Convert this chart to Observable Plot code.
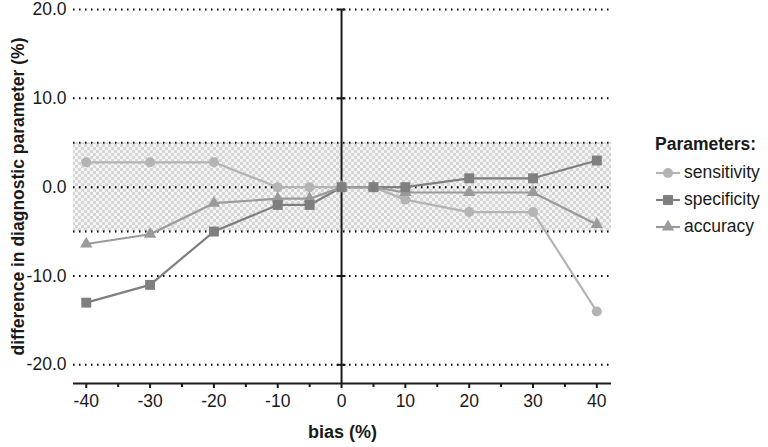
<!DOCTYPE html>
<html>
<head>
<meta charset="utf-8">
<script src="https://cdn.jsdelivr.net/npm/d3@7"></script>
<script src="https://cdn.jsdelivr.net/npm/@observablehq/plot@0.6"></script>
<style>
  html, body { margin: 0; padding: 0; background: #fff; }
  #wrap { position: relative; width: 768px; height: 447px; font-family: "Liberation Sans", Arial, sans-serif; color: #1a1a1a; }
  #legend { position: absolute; left: 655px; top: 134px; font-size: 17.5px; }
  #legend .title { font-weight: bold; font-size: 17.5px; margin-bottom: 4px; }
  #legend .item { display: flex; align-items: center; height: 27px; }
  #legend svg { margin-right: 3px; }
</style>
</head>
<body>
<div id="wrap"></div>
<script>
const bias = [-40, -30, -20, -10, -5, 0, 5, 10, 20, 30, 40];
const sensitivity = [2.8, 2.8, 2.8, 0, 0, 0, 0, -1.4, -2.8, -2.8, -14];
const specificity = [-13, -11, -5, -2, -2, 0, 0, 0, 1, 1, 3];
const accuracy = [-6.4, -5.3, -1.8, -1.3, -1.3, 0, 0, -0.6, -0.6, -0.6, -4.2];
const seriesNames = ["sensitivity", "specificity", "accuracy"];
const seriesColors = ["#b4b4b4", "#7f7f7f", "#9a9a9a"];
const seriesSymbols = ["circle", "square", "triangle"];
const seriesR = [5, 5.6, 4.6];
const yTicks = [20, 10, 0, -10, -20];
const gridValues = [20, 10, 5, 0, -5, -10, -20];
const band = [-5, 5];
const xLabelTicks = [-40, -30, -20, -10, 0, 10, 20, 30, 40];
const xMinorTicks = [-35, -25, -15, -5, 5, 15, 25, 35];
const xDomain = [-42, 42.3];
const yDomain = [-22.1, 20];

const values = [sensitivity, specificity, accuracy];
const rows = values.map(v => bias.map((b, i) => ({bias: b, value: v[i]})));

const marks = [
  Plot.rectY([band], {y1: d => d[0], y2: d => d[1], fill: "url(#checker)"}),
  Plot.ruleY(gridValues, {stroke: "#000", strokeWidth: 2, strokeDasharray: "1.5,4.5"}),
  Plot.ruleX([0], {stroke: "#1a1a1a", strokeWidth: 2}),
  Plot.ruleY(yTicks, {x1: -0.7, x2: 0.7, stroke: "#1a1a1a", strokeWidth: 2}),
  Plot.ruleY([yDomain[0]], {stroke: "#1a1a1a", strokeWidth: 2}),
  Plot.axisX(xLabelTicks, {tickSize: 5, tickPadding: 6, fontSize: 17.5, stroke: "#1a1a1a", strokeWidth: 2, fill: "#1a1a1a", tickFormat: d => String(d), label: null}),
  Plot.axisX(xMinorTicks, {tickSize: 4, text: null, stroke: "#1a1a1a", strokeWidth: 2, label: null}),
  Plot.axisY(yTicks, {tickSize: 0, tickPadding: 7, fontSize: 17.5, fill: "#1a1a1a", tickFormat: d => d.toFixed(1), label: null})
];
rows.forEach((data, i) => {
  marks.push(Plot.line(data, {x: "bias", y: "value", stroke: seriesColors[i], strokeWidth: 2.2}));
});
[0, 2, 1].forEach(i => {
  marks.push(Plot.dot(rows[i], {x: "bias", y: "value", fill: seriesColors[i], stroke: "none", symbol: seriesSymbols[i], r: seriesR[i]}));
});
marks.push(Plot.text(["difference in diagnostic parameter (%)"], {frameAnchor: "left", textAnchor: "middle", dx: -55, rotate: -90, fontSize: 17.5, fontWeight: "bold", fill: "#1a1a1a"}));
marks.push(Plot.text(["bias (%)"], {frameAnchor: "bottom", dy: 54, fontSize: 18, fontWeight: "bold", fill: "#1a1a1a"}));

const chart = Plot.plot({
  width: 768,
  height: 447,
  marginLeft: 73,
  marginRight: 157,
  marginTop: 9,
  marginBottom: 64,
  style: {fontFamily: "Liberation Sans, Arial, sans-serif", background: "#fff", overflow: "visible"},
  x: {domain: xDomain},
  y: {domain: yDomain},
  marks
});

const ns = "http://www.w3.org/2000/svg";
const defs = document.createElementNS(ns, "defs");
defs.innerHTML = `<pattern id="checker" width="6" height="6" patternUnits="userSpaceOnUse">
  <rect width="6" height="6" fill="#f4f4f4"/>
  <rect width="3" height="3" fill="#d6d6d6"/>
  <rect x="3" y="3" width="3" height="3" fill="#d6d6d6"/>
</pattern>`;
chart.insertBefore(defs, chart.firstChild);

const wrap = document.getElementById("wrap");
wrap.appendChild(chart);

const legend = document.createElement("div");
legend.id = "legend";
let html = `<div class="title">Parameters:</div>`;
const sym = d3.symbol();
seriesNames.forEach((name, i) => {
  const type = {circle: d3.symbolCircle, square: d3.symbolSquare, triangle: d3.symbolTriangle}[seriesSymbols[i]];
  const path = sym.type(type).size(Math.PI * seriesR[i] * seriesR[i])();
  html += `<div class="item"><svg width="26" height="16"><line x1="1" x2="25" y1="8" y2="8" stroke="${seriesColors[i]}" stroke-width="2.2"/><path transform="translate(13,8)" d="${path}" fill="${seriesColors[i]}"/></svg><span>${name}</span></div>`;
});
legend.innerHTML = html;
wrap.appendChild(legend);
</script>
</body>
</html>
